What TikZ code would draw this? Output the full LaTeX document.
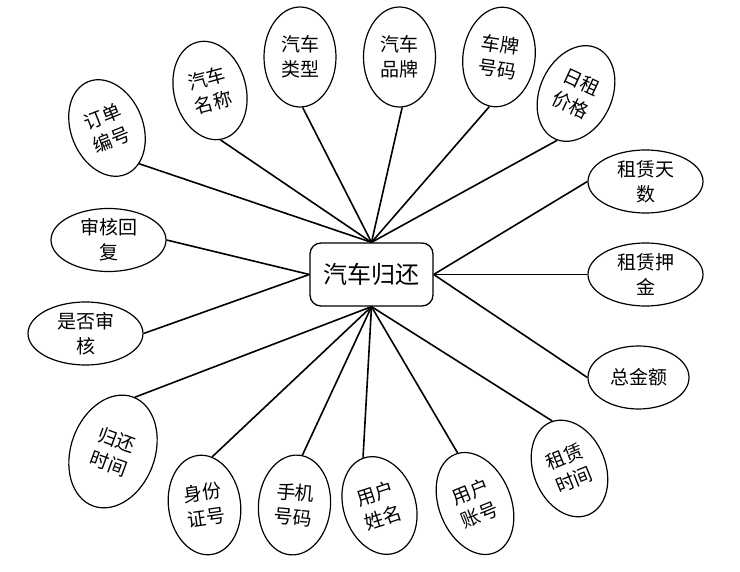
\documentclass[tikz,border=0pt]{standalone}
\usepackage{fontspec}
\setmainfont{Noto Sans CJK SC}
\usetikzlibrary{shapes.geometric}
\begin{document}
\begin{tikzpicture}[x=1pt,y=-1pt,
  attr/.style={ellipse, draw, line width=1.2pt, inner sep=0pt, align=center,
    font=\fontsize{19}{25}\selectfont},
  vattr/.style={attr, minimum width=72pt, minimum height=100pt},
  hattr/.style={attr, minimum width=115pt, minimum height=63pt},
  link/.style={line width=1.6pt},
  centerbox/.style={draw, rounded corners=11pt, line width=1.3pt,
    minimum width=123pt, minimum height=63pt, inner sep=0pt,
    font=\fontsize{24}{28}\selectfont}]
\useasboundingbox (0,0) rectangle (740,572);

\node[centerbox] (c) at (371.5,274.5) {汽车归还};

% top
\node[vattr, rotate=22] (od) at (107,128) {订单\\编号};
\node[vattr, rotate=15] (mc) at (210,90.5) {汽车\\名称};
\node[vattr] (lx) at (300,57) {汽车\\类型};
\node[vattr] (pp) at (399.5,57) {汽车\\品牌};
\node[vattr, rotate=-8] (cp) at (499,57) {车牌\\号码};
\node[vattr, rotate=-25] (rz) at (576,93.5) {日租\\价格};

% right
\node[hattr] (ts) at (645.5,181.5) {租赁天\\数};
\node[hattr] (yj) at (645.5,274.5) {租赁押\\金};
\node[hattr, minimum width=101pt] (je) at (638.5,377.5) {总金额};

% bottom
\node[vattr, rotate=22] (zs) at (569.5,468.5) {租赁\\时间};
\node[vattr, rotate=22, minimum height=106pt] (zh) at (475,503.5) {用户\\账号};
\node[vattr, rotate=18] (xm) at (379.5,505.5) {用户\\姓名};
\node[vattr, rotate=-5] (sj) at (294.5,505) {手机\\号码};
\node[vattr, rotate=8] (sf) at (204.5,505) {身份\\证号};
\node[vattr, rotate=-20, minimum width=84pt, minimum height=116pt] (gh) at (113,451.5) {归还\\时间};

% left
\node[hattr] (sh) at (85.5,333.5) {是否审\\核};
\node[hattr] (hf) at (108.5,240) {审核回\\复};

% connectors
\draw[link] (od.-70) -- (c.north);
\draw[link] (mc.-93) -- (c.north);
\draw[link] (lx.-87) -- (c.north);
\draw[link] (pp.-87) -- (c.north);
\draw[link] (cp.-93) -- (c.north);
\draw[link] (rz.-87) -- (c.north);

\draw[link] (ts.west) -- (c.east);
\draw[link] (yj.west) -- (c.east);
\draw[link] (je.west) -- (c.east);

\draw[link] (zs.88) -- (c.south);
\draw[link] (zh.87) -- (c.south);
\draw[link] (xm.91) -- (c.south);
\draw[link] (sj.86) -- (c.south);
\draw[link] (sf.73) -- (c.south);
\draw[link] (gh.88) -- (c.south);

\draw[link] (sh.east) -- (c.west);
\draw[link] (hf.east) -- (c.west);
\end{tikzpicture}
\end{document}
